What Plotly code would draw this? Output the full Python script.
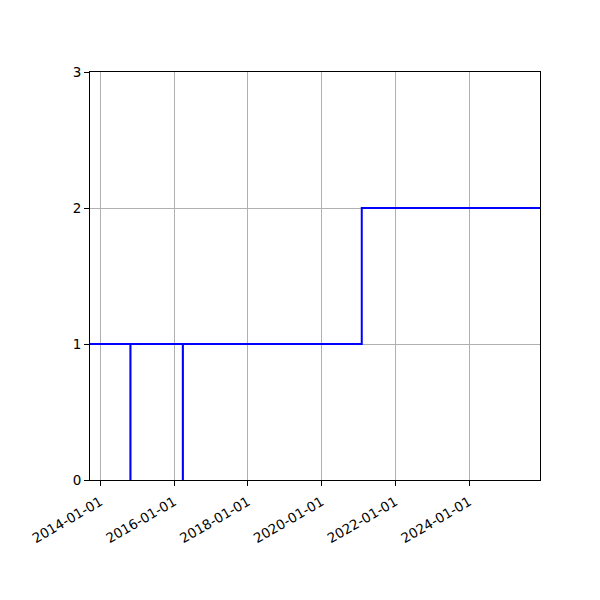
import plotly.graph_objects as go

dates = ['2013-09-21', '2014-10-26', '2014-10-27', '2016-03-28',
         '2016-03-29', '2021-02-02', '2025-12-03']
values = [1, 0, 1, 0, 1, 2, 2]

x_ticks = ['2014-01-01', '2016-01-01', '2018-01-01', '2020-01-01',
           '2022-01-01', '2024-01-01']
y_ticks = [0, 1, 2, 3]

fig = go.Figure()
fig.add_trace(go.Scatter(x=dates, y=values, mode='lines',
                         line=dict(color='blue', width=2, shape='hv'),
                         showlegend=False))

axis_style = dict(showline=True, linecolor='black', linewidth=1, mirror=True,
                  ticks='outside', ticklen=5, tickcolor='black',
                  showgrid=True, gridcolor='#b0b0b0', gridwidth=1,
                  zeroline=False, tickfont=dict(size=13.5, color='black'))

fig.update_xaxes(range=['2013-09-21', '2025-12-03'], tickvals=x_ticks,
                 ticktext=x_ticks, tickangle=-30, ticklabelstandoff=3,
                 **axis_style)
fig.update_yaxes(range=[0, 3], tickvals=y_ticks, **axis_style)

# page body adds an 8px offset, so margins are shifted by that
fig.update_layout(width=600, height=600,
                  margin=dict(l=82, r=68, t=64, b=128),
                  plot_bgcolor='white', paper_bgcolor='white',
                  font=dict(family='DejaVu Sans'))

fig.write_html('out.html')
